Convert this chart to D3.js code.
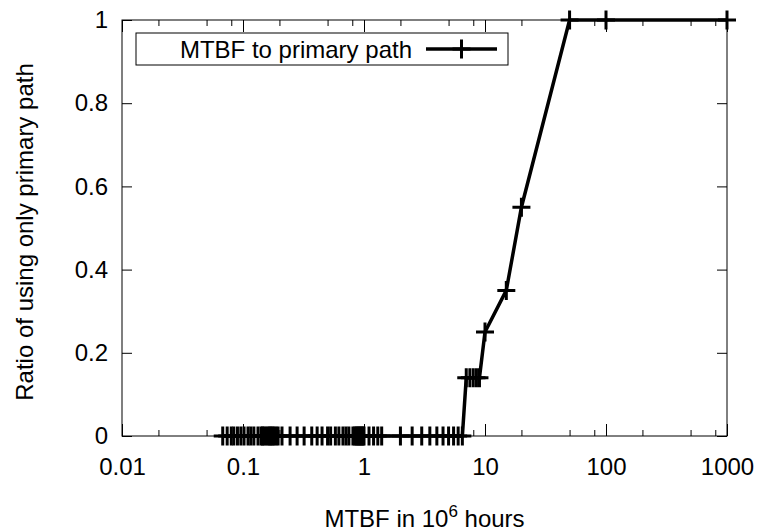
<!DOCTYPE html>
<html>
<head>
<meta charset="utf-8">
<script src="https://cdn.jsdelivr.net/npm/d3@7"></script>
<style>
  body { margin: 0; background: #fff; }
  text { font-family: "Liberation Sans", Arial, sans-serif; fill: #000; }
</style>
</head>
<body>
<div id="chart"></div>
<script>
// MTBF (10^6 hours) and ratio of using only primary path
var mtbf = [0.068, 0.074, 0.08, 0.084, 0.09, 0.096, 0.102, 0.11, 0.116, 0.123,
            0.133, 0.141, 0.145, 0.149, 0.155, 0.161, 0.166, 0.17, 0.175, 0.18,
            0.187, 0.195, 0.21, 0.245, 0.28, 0.32, 0.37, 0.41, 0.45, 0.5,
            0.53, 0.58, 0.62, 0.67, 0.71, 0.75, 0.81, 0.84, 0.86, 0.88,
            0.9, 0.92, 0.94, 0.96, 0.98, 1.0, 1.1, 1.2, 1.3, 1.4,
            2, 2.5, 3, 3.5, 4, 4.5, 5, 5.5, 6, 6.5,
            7, 7.5, 8, 8.5, 9, 10, 15, 20, 50, 100, 1000];
var ratio = [0, 0, 0, 0, 0, 0, 0, 0, 0, 0,
             0, 0, 0, 0, 0, 0, 0, 0, 0, 0,
             0, 0, 0, 0, 0, 0, 0, 0, 0, 0,
             0, 0, 0, 0, 0, 0, 0, 0, 0, 0,
             0, 0, 0, 0, 0, 0, 0, 0, 0, 0,
             0, 0, 0, 0, 0, 0, 0, 0, 0, 0,
             0.14, 0.14, 0.14, 0.14, 0.14, 0.25, 0.35, 0.55, 1, 1, 1];
var xMajor = [0.01, 0.1, 1, 10, 100, 1000];
var xMinor = [0.02, 0.05, 0.08, 0.2, 0.5, 0.8, 2, 5, 8, 20, 50, 80, 200, 500, 800];
var yTicks = [0, 0.2, 0.4, 0.6, 0.8, 1];
var seriesName = "MTBF to primary path";

var W = 760, H = 532;
var mLeft = 122, mRight = 727, mTop = 20, mBottom = 436;
var fs = 24;

var svg = d3.select("#chart").append("svg")
  .attr("width", W).attr("height", H);

var x = d3.scaleLog().domain([0.01, 1000]).range([mLeft, mRight]);
var y = d3.scaleLinear().domain([0, 1]).range([mBottom, mTop]);

var fmtX = function(d) { return d3.format("~g")(d); };

// frame
svg.append("rect")
  .attr("x", mLeft).attr("y", mTop)
  .attr("width", mRight - mLeft).attr("height", mBottom - mTop)
  .attr("fill", "none").attr("stroke", "#000").attr("stroke-width", 1);

// x axis, bottom and top, ticks inward
svg.append("g").attr("transform", "translate(0," + mBottom + ")")
  .call(d3.axisBottom(x).tickValues(xMajor).tickFormat(fmtX).tickSizeInner(-12).tickSizeOuter(0).tickPadding(22));
svg.append("g").attr("transform", "translate(0," + mTop + ")")
  .call(d3.axisTop(x).tickValues(xMajor).tickFormat("").tickSizeInner(-12).tickSizeOuter(0));
svg.append("g").attr("transform", "translate(0," + mBottom + ")")
  .call(d3.axisBottom(x).tickValues(xMinor).tickFormat("").tickSizeInner(-6).tickSizeOuter(0));
svg.append("g").attr("transform", "translate(0," + mTop + ")")
  .call(d3.axisTop(x).tickValues(xMinor).tickFormat("").tickSizeInner(-6).tickSizeOuter(0));

// y axis, left and right
svg.append("g").attr("transform", "translate(" + mLeft + ",0)")
  .call(d3.axisLeft(y).tickValues(yTicks).tickFormat(d3.format("~g")).tickSizeInner(-10).tickSizeOuter(0).tickPadding(14));
svg.append("g").attr("transform", "translate(" + mRight + ",0)")
  .call(d3.axisRight(y).tickValues(yTicks).tickFormat("").tickSizeInner(-10).tickSizeOuter(0));

svg.selectAll(".domain").remove();
svg.selectAll(".tick line").attr("stroke", "#000").attr("stroke-width", 1);
svg.selectAll(".tick text").attr("font-size", fs).attr("font-family", "Liberation Sans, Arial, sans-serif");

// axis titles
svg.append("text")
  .attr("transform", "translate(33," + ((mTop + mBottom) / 2 + 4) + ") rotate(-90)")
  .attr("text-anchor", "middle").attr("font-size", fs)
  .text("Ratio of using only primary path");

var xt = svg.append("text")
  .attr("x", (mLeft + mRight) / 2).attr("y", 527)
  .attr("text-anchor", "middle").attr("font-size", fs);
xt.append("tspan").text("MTBF in 10");
xt.append("tspan").attr("dy", -10).attr("font-size", 17).text("6");
xt.append("tspan").attr("dy", 10).text(" hours");

// data line
var pts = mtbf.map(function(d, i) { return [d, ratio[i]]; });
var line = d3.line().x(function(d) { return x(d[0]); }).y(function(d) { return y(d[1]); });

svg.append("path").datum(pts)
  .attr("d", line)
  .attr("fill", "none").attr("stroke", "#000")
  .attr("stroke-width", 3.5).attr("stroke-linejoin", "miter");

var plus = "M-9,0H9M0,-9.5V9.5";
svg.selectAll(".pt").data(pts).enter().append("path")
  .attr("class", "pt")
  .attr("transform", function(d) { return "translate(" + x(d[0]) + "," + y(d[1]) + ")"; })
  .attr("d", plus)
  .attr("stroke", "#000").attr("stroke-width", 3).attr("fill", "none");

// legend
var lg = svg.append("g");
lg.append("rect").attr("x", 136).attr("y", 33).attr("width", 372).attr("height", 32)
  .attr("fill", "#fff").attr("stroke", "#000").attr("stroke-width", 1);
lg.append("text").attr("x", 412).attr("y", 58).attr("text-anchor", "end")
  .attr("font-size", fs).text(seriesName);
lg.append("line").attr("x1", 426).attr("x2", 497).attr("y1", 49).attr("y2", 49)
  .attr("stroke", "#000").attr("stroke-width", 3.5);
lg.append("path").attr("transform", "translate(461.5,49)").attr("d", plus)
  .attr("stroke", "#000").attr("stroke-width", 3);
</script>
</body>
</html>
